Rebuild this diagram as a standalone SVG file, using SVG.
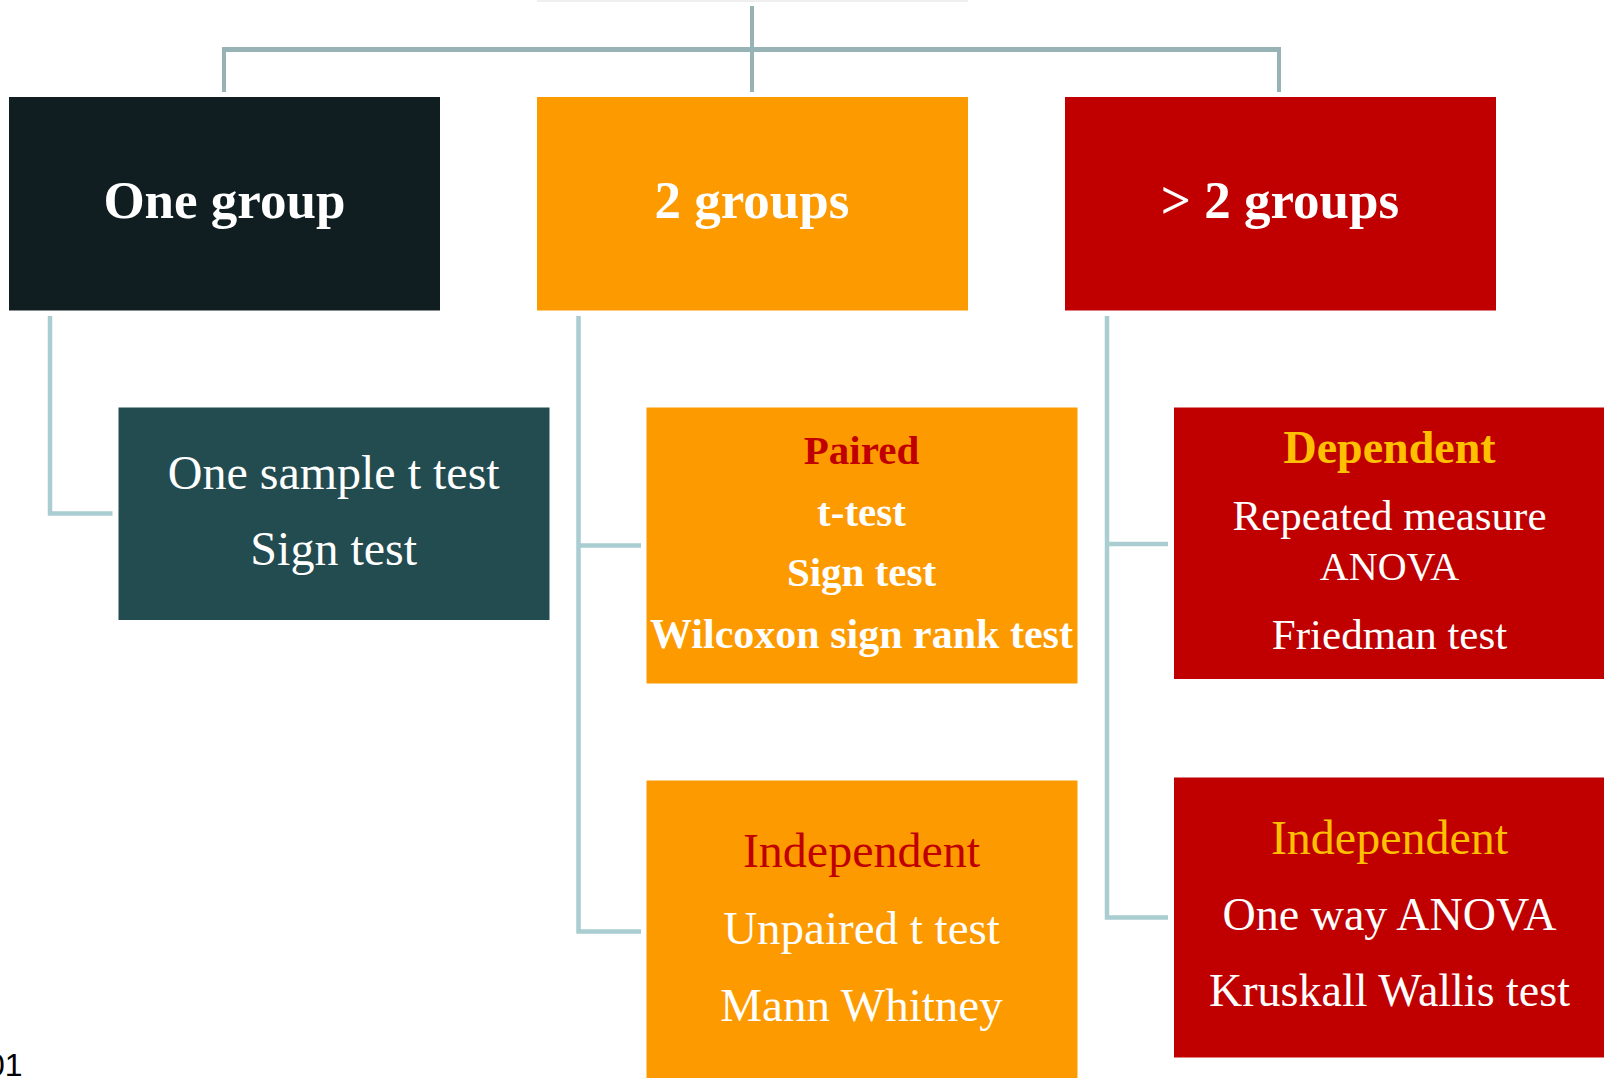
<svg xmlns="http://www.w3.org/2000/svg" width="1604" height="1078" viewBox="0 0 1604 1078">
<style>
.t{font-family:"Liberation Serif","Times New Roman",serif;text-anchor:middle;fill:#fff}
.b{font-weight:bold}
.c1{stroke:#97b3b6;fill:none}
.c2{stroke:#a9cdd1;fill:none;stroke-width:4.5}
</style>
<rect x="537" y="0" width="431" height="2" fill="#efefef"/>
<g id="connectors">
<line class="c1" x1="752" y1="6" x2="752" y2="92" stroke-width="4"/>
<line class="c1" x1="222" y1="49.5" x2="1281" y2="49.5" stroke-width="5"/>
<line class="c1" x1="224" y1="49" x2="224" y2="92" stroke-width="4"/>
<line class="c1" x1="1279" y1="49" x2="1279" y2="92" stroke-width="4"/>
<polyline class="c2" points="50,316 50,513.5 112.5,513.5"/>
<polyline class="c2" points="578.5,316 578.5,931.5 641,931.5"/>
<line class="c2" x1="578.5" y1="545.5" x2="641" y2="545.5"/>
<polyline class="c2" points="1107,316 1107,917.5 1168,917.5"/>
<line class="c2" x1="1107" y1="544" x2="1168" y2="544"/>
</g>
<g id="one-group">
<rect x="9" y="97" width="431" height="213.5" fill="#111e21"/>
<text class="t b" x="224.4" y="218" font-size="53">One group</text>
</g>
<g id="two-groups">
<rect x="537" y="97" width="431" height="213.5" fill="#fd9a00"/>
<text class="t b" x="752" y="218" font-size="53">2 groups</text>
</g>
<g id="more-groups">
<rect x="1065" y="97" width="431" height="213.5" fill="#c00000"/>
<text class="t b" x="1280" y="218" font-size="53">&gt; 2 groups</text>
</g>
<g id="one-sample">
<rect x="118.5" y="407.5" width="431" height="212.5" fill="#234c51"/>
<text class="t" x="333.7" y="488.5" font-size="48">One sample t test</text>
<text class="t" x="333.7" y="565" font-size="48">Sign test</text>
</g>
<g id="paired">
<rect x="646.5" y="407.5" width="431" height="276" fill="#fd9a00"/>
<text class="t b" x="861.5" y="464" font-size="41" style="fill:#c00000">Paired</text>
<text class="t b" x="861.5" y="526" font-size="41">t-test</text>
<text class="t b" x="861.5" y="586" font-size="41">Sign test</text>
<text class="t b" x="861.5" y="647.5" font-size="42">Wilcoxon sign rank test</text>
</g>
<g id="independent-2">
<rect x="646.5" y="780.5" width="431" height="300" fill="#fd9a00"/>
<text class="t" x="861.5" y="867" font-size="48" style="fill:#c00000">Independent</text>
<text class="t" x="861.5" y="944" font-size="47">Unpaired t test</text>
<text class="t" x="861.5" y="1021" font-size="47">Mann Whitney</text>
</g>
<g id="dependent">
<rect x="1174" y="407.5" width="431" height="271.5" fill="#c00000"/>
<text class="t b" x="1389.5" y="462.5" font-size="46" style="fill:#ffc000">Dependent</text>
<text class="t" x="1389.5" y="530" font-size="43">Repeated measure</text>
<text class="t" x="1389.5" y="580" font-size="40">ANOVA</text>
<text class="t" x="1389.5" y="649" font-size="43">Friedman test</text>
</g>
<g id="independent-3">
<rect x="1174" y="777.5" width="431" height="280" fill="#c00000"/>
<text class="t" x="1389.5" y="853.5" font-size="48" style="fill:#ffc000">Independent</text>
<text class="t" x="1389.5" y="930" font-size="46">One way ANOVA</text>
<text class="t" x="1389.5" y="1006" font-size="46">Kruskall Wallis test</text>
</g>
<text x="-13" y="1076" font-family="Liberation Sans, Arial, sans-serif" font-size="32" fill="#000">01</text>
</svg>
